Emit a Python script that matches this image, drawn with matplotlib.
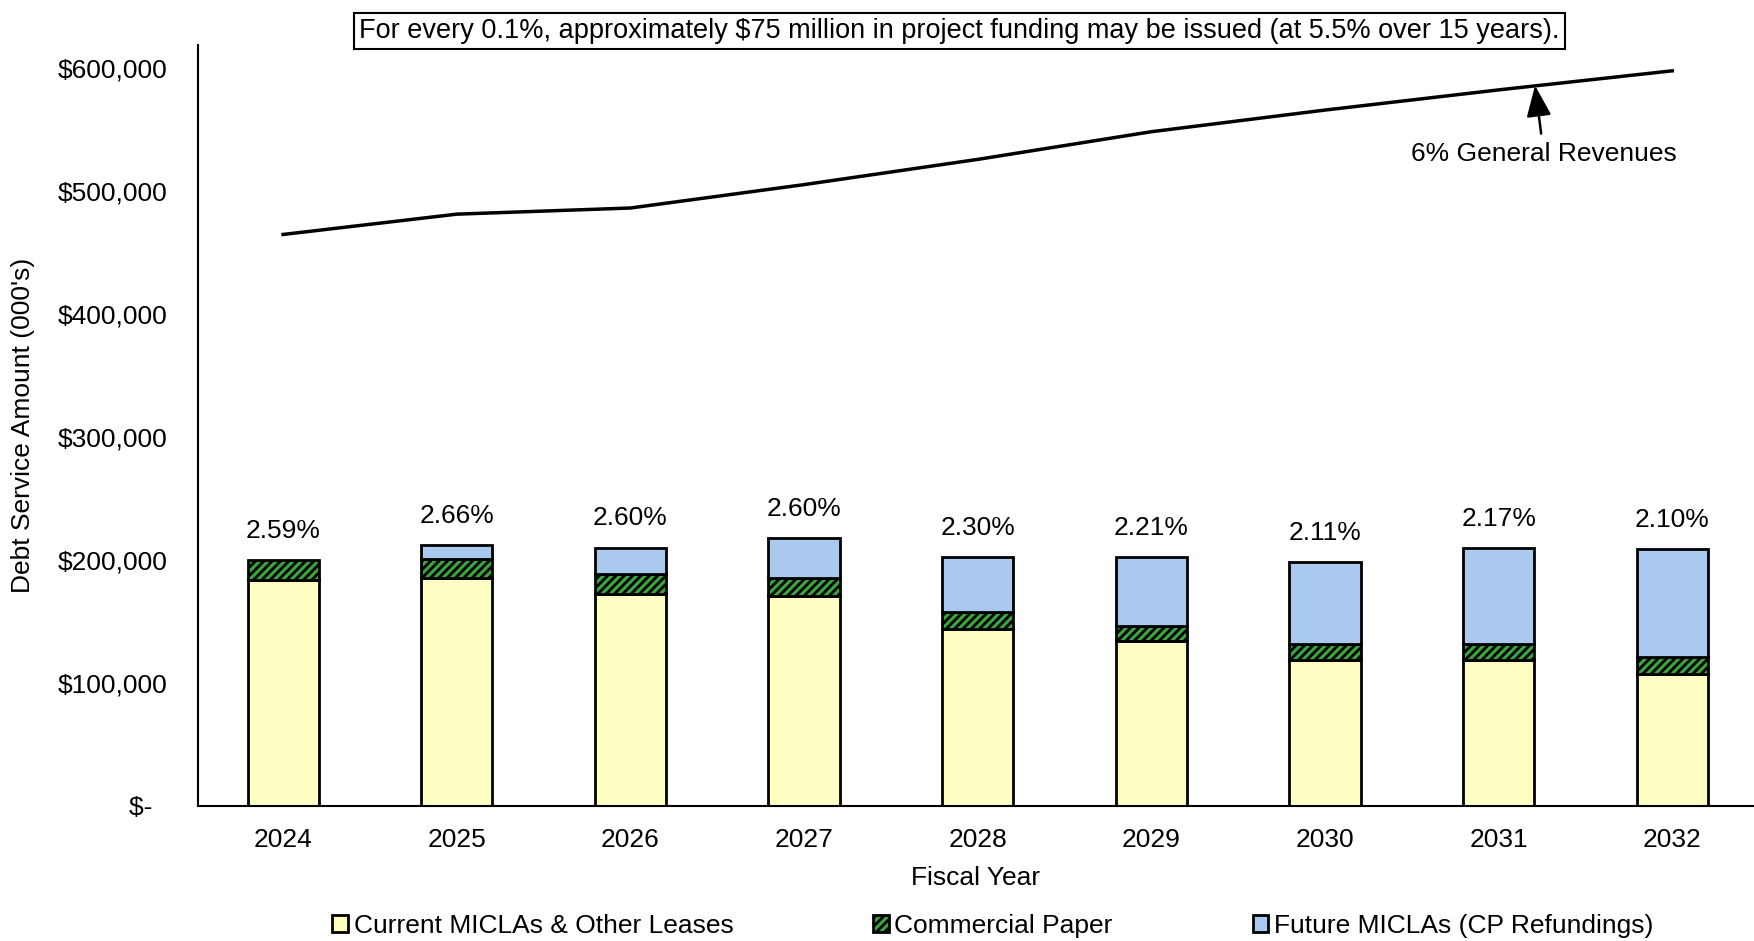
import matplotlib.pyplot as plt
import matplotlib.ticker as mticker
from matplotlib.patches import Patch

plt.rcParams['font.family'] = ['Liberation Sans', 'DejaVu Sans']
plt.rcParams['hatch.linewidth'] = 2.0

years = ['2024', '2025', '2026', '2027', '2028', '2029', '2030', '2031', '2032']
current_miclas = [184000, 185000, 172000, 171000, 144000, 134000, 119000, 119000, 107500]
commercial_paper = [16000, 16000, 16500, 14000, 13500, 12600, 13000, 13000, 13500]
future_miclas = [0, 11000, 21500, 33000, 44500, 55400, 66500, 77500, 87500]
general_revenues = [464500, 481000, 486000, 505000, 525500, 548000, 565600, 582000, 597500]
pct_labels = ['2.59%', '2.66%', '2.60%', '2.60%', '2.30%', '2.21%', '2.11%', '2.17%', '2.10%']

YELLOW = '#FFFFC4'
GREEN = '#3AA53A'
BLUE = '#A9C9EE'
FS = 19

fig = plt.figure(figsize=(17.54, 9.41), dpi=100)
ax = fig.add_axes([0.1129, 0.1435, 0.887, 0.8087])

x = list(range(len(years)))
w = 0.41
b2 = [a + b for a, b in zip(current_miclas, commercial_paper)]
ax.bar(x, current_miclas, w, color=YELLOW, edgecolor='black', linewidth=2)
ax.bar(x, commercial_paper, w, bottom=current_miclas, color=GREEN,
       edgecolor='black', linewidth=2, hatch='////')
for i in x:
    if future_miclas[i] > 0:
        ax.bar(i, future_miclas[i], w, bottom=b2[i], color=BLUE,
               edgecolor='black', linewidth=2)

totals = [a + b for a, b in zip(b2, future_miclas)]
for i in x:
    ax.text(i, totals[i] + 14000, pct_labels[i], ha='center', va='bottom', fontsize=FS)

ax.plot(x, general_revenues, color='black', linewidth=2.5)
ax.annotate('6% General Revenues', xy=(7.21, 585500), xytext=(7.26, 530000),
            ha='center', va='center', fontsize=FS,
            arrowprops=dict(arrowstyle='-|>,head_width=0.4,head_length=1.0',
                            color='black', lw=1.8, shrinkA=4, shrinkB=0))

ax.set_xlim(-0.49, 8.47)
ax.set_ylim(0, 618500)
ax.set_xticks(x)
ax.set_xticklabels(years)
ax.set_yticks(range(0, 600001, 100000))
ax.yaxis.set_major_formatter(mticker.FuncFormatter(
    lambda v, p: '$-  ' if v == 0 else '${:,.0f}'.format(v)))
ax.tick_params(length=0, labelsize=FS, pad=16)
ax.tick_params(axis='y', pad=22)
for s in ['top', 'right']:
    ax.spines[s].set_visible(False)
for s in ['left', 'bottom']:
    ax.spines[s].set_linewidth(1.5)

ax.set_xlabel('Fiscal Year', fontsize=FS, labelpad=10)
ax.set_ylabel("Debt Service Amount (000's)", fontsize=FS, labelpad=16)

fig.text(0.547, 0.967, 'For every 0.1%, approximately $75 million in project funding may be issued (at 5.5% over 15 years).',
         ha='center', va='center', fontsize=19.5,
         bbox=dict(boxstyle='square,pad=0.2', facecolor='white', edgecolor='black', linewidth=1.5))

handles = [Patch(facecolor=YELLOW, edgecolor='black', linewidth=2),
           Patch(facecolor=GREEN, edgecolor='black', linewidth=2, hatch='////'),
           Patch(facecolor=BLUE, edgecolor='black', linewidth=2)]
fig.legend(handles, ['Current MICLAs & Other Leases', 'Commercial Paper', 'Future MICLAs (CP Refundings)'],
           loc='center', bbox_to_anchor=(0.566, 0.016), ncol=3, frameon=False,
           fontsize=FS, handlelength=0.6, handleheight=0.6, handletextpad=0.2,
           columnspacing=5.3)

fig.savefig('out.png', dpi=100)
